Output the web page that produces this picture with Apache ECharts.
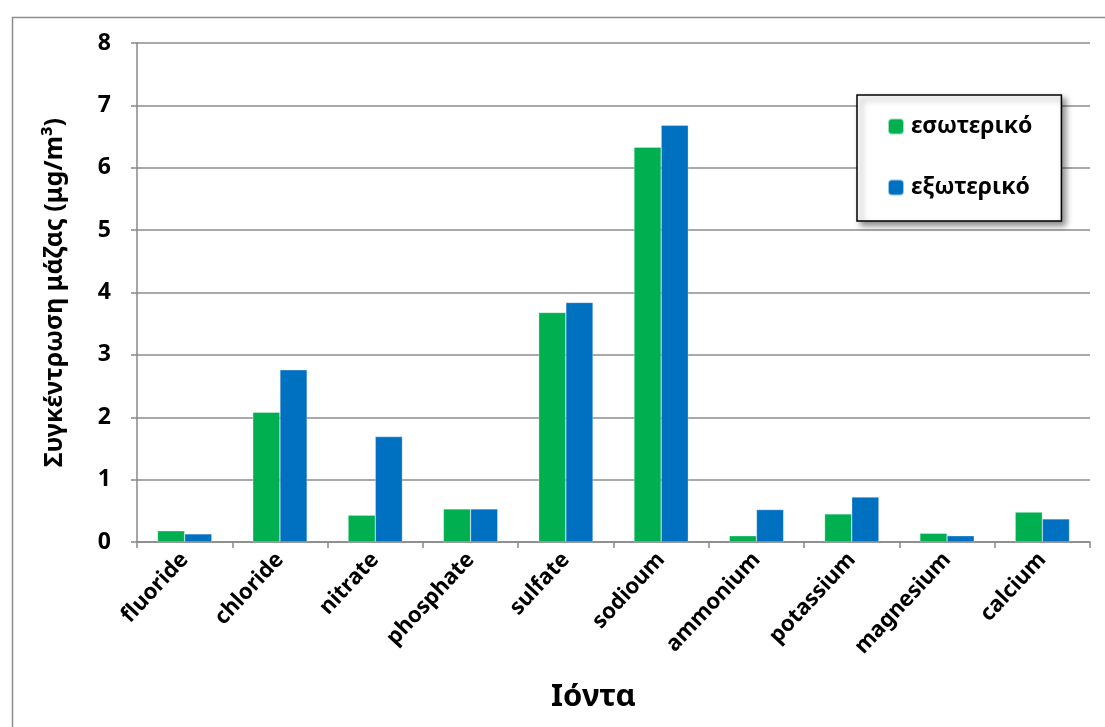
<!DOCTYPE html>
<html><head><meta charset="utf-8">
<script src="https://cdn.jsdelivr.net/npm/echarts@6/dist/echarts.min.js"></script>
<style>html,body{margin:0;padding:0;background:#fff}#c{width:1105px;height:727px}</style>
</head><body><div id="c"></div>
<script>
const categories = ['fluoride','chloride','nitrate','phosphate','sulfate','sodioum','ammonium','potassium','magnesium','calcium'];
const indoorName = 'εσωτερικό';
const outdoorName = 'εξωτερικό';
const indoor = [0.18, 2.08, 0.43, 0.53, 3.68, 6.33, 0.10, 0.45, 0.14, 0.48];
const outdoor = [0.13, 2.76, 1.69, 0.53, 3.84, 6.68, 0.52, 0.72, 0.10, 0.37];
const yTicks = [0, 1, 2, 3, 4, 5, 6, 7, 8];
const yTitle = 'Συγκέντρωση μάζας (μg/m³)';
const xTitle = 'Ιόντα';

const font = '"Noto Sans", "Open Sans", "DejaVu Sans", sans-serif';
const chart = echarts.init(document.getElementById('c'));
chart.setOption({
  animation: false,
  backgroundColor: '#fff',
  graphic: [{
    type: 'rect', left: 10, top: 15, z: -1,
    shape: { width: 1200, height: 800 },
    style: { fill: 'none', stroke: '#8c8c8c', lineWidth: 1.5 }
  }],
  grid: { left: 137, right: 15, top: 43, bottom: 185, containLabel: false },
  legend: {
    orient: 'vertical', left: 857, top: 95,
    padding: [20, 29, 22, 30], itemGap: 38,
    itemWidth: 16, itemHeight: 16,
    backgroundColor: '#fff', borderColor: '#000', borderWidth: 1.5,
    shadowColor: 'rgba(0,0,0,0.45)', shadowBlur: 6, shadowOffsetX: 4, shadowOffsetY: 4,
    textStyle: { fontFamily: font, fontWeight: 'bold', fontSize: 23, color: '#000', padding: [0,0,0,2] },
    data: [indoorName, outdoorName]
  },
  xAxis: {
    type: 'category', data: categories,
    axisLine: { lineStyle: { color: '#888', width: 1.5 } },
    axisTick: { show: true, alignWithLabel: false, length: 6, lineStyle: { color: '#888', width: 1.5 } },
    axisLabel: { rotate: 47, interval: 0, margin: 14, fontFamily: font, fontWeight: 'bold', fontSize: 22, color: '#000' },
    name: xTitle, nameLocation: 'middle', nameGap: 140,
    nameTextStyle: { fontFamily: font, fontWeight: 'bold', fontSize: 31, color: '#000', padding: [0, 40, 0, 0] }
  },
  yAxis: {
    type: 'value', min: 0, max: 8, interval: 1,
    axisLine: { show: true, lineStyle: { color: '#888', width: 1.5 } },
    axisTick: { show: true, length: 6, lineStyle: { color: '#888', width: 1.5 } },
    splitLine: { show: true, lineStyle: { color: '#8c8c8c', width: 1.5 } },
    axisLabel: { margin: 26, fontFamily: font, fontWeight: 'bold', fontSize: 23, color: '#000',
      formatter: v => yTicks.includes(v) ? String(v) : '' },
    name: yTitle, nameLocation: 'middle', nameGap: 70, nameRotate: 90,
    nameTextStyle: { fontFamily: font, fontWeight: 'bold', fontSize: 25, color: '#000' }
  },
  series: [
    { name: indoorName, type: 'bar', data: indoor, barGap: '0%', barCategoryGap: '43%',
      itemStyle: { color: '#00B050', borderColor: 'rgba(255,255,255,0.6)', borderWidth: 0.5 } },
    { name: outdoorName, type: 'bar', data: outdoor, barGap: '0%', barCategoryGap: '43%',
      itemStyle: { color: '#0070C0', borderColor: 'rgba(255,255,255,0.6)', borderWidth: 0.5 } }
  ]
});
</script></body></html>
